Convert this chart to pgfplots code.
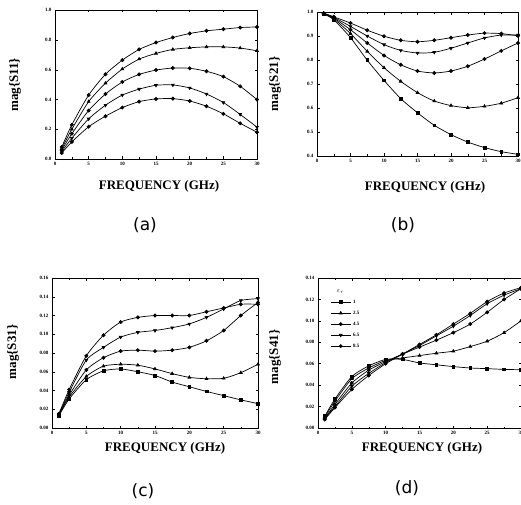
\documentclass[border=0pt]{standalone}
\usepackage{pgfplots}
\pgfplotsset{compat=1.18}
\usepackage{fontspec}
\setmainfont{Liberation Serif}
\newfontfamily\capfont{DejaVu Sans}

\pgfplotsset{
  panel/.style={
    scale only axis, anchor=south west,
    xmin=0, xmax=30, xtick={0,5,10,15,20,25,30},
    minor x tick num=1,
    tick align=inside, major tick length=2.5pt, minor tick length=1.5pt,
    tick style={black, line width=0.5pt},
    axis line style={line width=0.7pt},
    ticklabel style={font=\fontsize{5}{6}\selectfont\bfseries},
    /pgf/number format/assume math mode=true,
    every axis plot/.append style={black, line width=0.7pt, mark size=1.6pt, smooth, tension=0.4},
  },
  mA/.style={mark=*},
  mB/.style={mark=triangle*},
  mC/.style={mark=*},
  mD/.style={mark=triangle*, mark options={rotate=180}},
  mE/.style={mark=square*, mark size=1.4pt},
}

\begin{document}
\begin{tikzpicture}[x=1pt,y=1pt]
\useasboundingbox (0pt,0pt) rectangle (521pt,504pt);

% (a) S11
\begin{axis}[panel, at={(55pt,345pt)}, width=202pt, height=149pt,
  ymin=0, ymax=1.002, ytick={0,0.2,0.4,0.6,0.8,1},
  yticklabels={0.0,0.2,0.4,0.6,0.8,1.0}]
\addplot[mA] coordinates {(1,0.08)(2.5,0.23)(5,0.43)(7.5,0.57)(10,0.665)(12.5,0.737)(15,0.783)(17.5,0.817)(20,0.844)(22.5,0.862)(25,0.873)(27.5,0.884)(30,0.888)};
\addplot[mB] coordinates {(1,0.07)(2.5,0.20)(5,0.386)(7.5,0.51)(10,0.605)(12.5,0.672)(15,0.71)(17.5,0.737)(20,0.748)(22.5,0.754)(25,0.754)(27.5,0.746)(30,0.728)};
\addplot[mC] coordinates {(1,0.06)(2.5,0.17)(5,0.326)(7.5,0.437)(10,0.518)(12.5,0.569)(15,0.598)(17.5,0.612)(20,0.61)(22.5,0.59)(25,0.554)(27.5,0.489)(30,0.40)};
\addplot[mD] coordinates {(1,0.05)(2.5,0.14)(5,0.27)(7.5,0.362)(10,0.43)(12.5,0.47)(15,0.496)(17.5,0.498)(20,0.478)(22.5,0.437)(25,0.38)(27.5,0.30)(30,0.214)};
\addplot[mC] coordinates {(1,0.04)(2.5,0.115)(5,0.217)(7.5,0.288)(10,0.346)(12.5,0.386)(15,0.404)(17.5,0.406)(20,0.39)(22.5,0.355)(25,0.304)(27.5,0.24)(30,0.18)};
\end{axis}

% (b) S21
\begin{axis}[panel, at={(317pt,348pt)}, width=201pt, height=144pt,
  ymin=0.4, ymax=1, ytick={0.4,0.5,0.6,0.7,0.8,0.9,1.0},
  yticklabel style={/pgf/number format/.cd, fixed, fixed zerofill, precision=1}]
\addplot[mC] coordinates {(1,0.995)(2.5,0.98)(5,0.954)(7.5,0.924)(10,0.899)(12.5,0.882)(15,0.876)(17.5,0.882)(20,0.893)(22.5,0.904)(25,0.912)(27.5,0.91)(30,0.901)};
\addplot[mD] coordinates {(1,0.995)(2.5,0.978)(5,0.94)(7.5,0.9)(10,0.864)(12.5,0.84)(15,0.829)(17.5,0.832)(20,0.849)(22.5,0.871)(25,0.892)(27.5,0.904)(30,0.904)};
\addplot[mA] coordinates {(1,0.994)(2.5,0.975)(5,0.926)(7.5,0.871)(10,0.819)(12.5,0.78)(15,0.754)(17.5,0.746)(20,0.754)(22.5,0.774)(25,0.804)(27.5,0.838)(30,0.871)};
\addplot[mB] coordinates {(1,0.993)(2.5,0.972)(5,0.91)(7.5,0.836)(10,0.768)(12.5,0.711)(15,0.664)(17.5,0.629)(20,0.61)(22.5,0.601)(25,0.607)(27.5,0.62)(30,0.643)};
\addplot[mE] coordinates {(1,0.992)(2.5,0.968)(5,0.893)(7.5,0.799)(10,0.715)(12.5,0.639)(15,0.58)(17.5,0.528)(20,0.489)(22.5,0.458)(25,0.435)(27.5,0.418)(30,0.407)};
\end{axis}

% (c) S31
\begin{axis}[panel, at={(52pt,76pt)}, width=206pt, height=150pt,
  ymin=0, ymax=0.16, ytick={0,0.02,0.04,0.06,0.08,0.10,0.12,0.14,0.16},
  yticklabel style={/pgf/number format/.cd, fixed, fixed zerofill, precision=2}]
\addplot[mA] coordinates {(1,0.015)(2.5,0.041)(5,0.077)(7.5,0.099)(10,0.113)(12.5,0.118)(15,0.12)(17.5,0.12)(20,0.12)(22.5,0.124)(25,0.128)(27.5,0.132)(30,0.132)};
\addplot[mD] coordinates {(1,0.015)(2.5,0.038)(5,0.0725)(7.5,0.086)(10,0.097)(12.5,0.102)(15,0.104)(17.5,0.107)(20,0.111)(22.5,0.118)(25,0.127)(27.5,0.136)(30,0.138)};
\addplot[mC] coordinates {(1,0.014)(2.5,0.035)(5,0.062)(7.5,0.075)(10,0.082)(12.5,0.083)(15,0.082)(17.5,0.083)(20,0.086)(22.5,0.093)(25,0.104)(27.5,0.12)(30,0.134)};
\addplot[mB] coordinates {(1,0.014)(2.5,0.033)(5,0.055)(7.5,0.066)(10,0.068)(12.5,0.067)(15,0.063)(17.5,0.058)(20,0.054)(22.5,0.0525)(25,0.053)(27.5,0.059)(30,0.068)};
\addplot[mE] coordinates {(1,0.013)(2.5,0.031)(5,0.0515)(7.5,0.061)(10,0.063)(12.5,0.06)(15,0.056)(17.5,0.049)(20,0.044)(22.5,0.039)(25,0.0345)(27.5,0.030)(30,0.026)};
\end{axis}

% (d) S41
\begin{axis}[panel, at={(318pt,76pt)}, width=203pt, height=150pt,
  ymin=0, ymax=0.14, ytick={0,0.02,0.04,0.06,0.08,0.10,0.12,0.14},
  yticklabel style={/pgf/number format/.cd, fixed, fixed zerofill, precision=2},
  legend style={draw=none, fill=none, at={(0.06,0.87)}, anchor=north west,
    font=\fontsize{5}{6}\selectfont\bfseries, row sep=2.2pt, inner sep=0pt},
  legend cell align=left,
  legend image code/.code={\draw[mark repeat=2, mark phase=2, sharp plot]
    plot coordinates {(0pt,0pt) (10pt,0pt) (20pt,0pt)};}]
\addplot[mE] coordinates {(1,0.011)(2.5,0.027)(5,0.048)(7.5,0.058)(10,0.064)(12.5,0.064)(15,0.0607)(17.5,0.059)(20,0.0573)(22.5,0.056)(25,0.0554)(27.5,0.0547)(30,0.0544)};
\addlegendentry{1}
\addplot[mB] coordinates {(1,0.010)(2.5,0.025)(5,0.046)(7.5,0.056)(10,0.063)(12.5,0.0654)(15,0.0676)(17.5,0.0698)(20,0.0717)(22.5,0.076)(25,0.081)(27.5,0.089)(30,0.10)};
\addlegendentry{2.5}
\addplot[mC] coordinates {(1,0.009)(2.5,0.022)(5,0.042)(7.5,0.054)(10,0.062)(12.5,0.069)(15,0.0755)(17.5,0.082)(20,0.089)(22.5,0.097)(25,0.108)(27.5,0.12)(30,0.13)};
\addlegendentry{4.5}
\addplot[mD] coordinates {(1,0.009)(2.5,0.020)(5,0.039)(7.5,0.051)(10,0.061)(12.5,0.069)(15,0.077)(17.5,0.086)(20,0.095)(22.5,0.105)(25,0.116)(27.5,0.124)(30,0.13)};
\addlegendentry{6.5}
\addplot[mA] coordinates {(1,0.008)(2.5,0.019)(5,0.036)(7.5,0.049)(10,0.060)(12.5,0.069)(15,0.078)(17.5,0.087)(20,0.097)(22.5,0.107)(25,0.118)(27.5,0.126)(30,0.131)};
\addlegendentry{8.5}
\node[font=\fontsize{6}{7}\selectfont] at (axis description cs:0.11,0.91) {$\varepsilon_r$};
\end{axis}

% axis titles
\begin{scope}[font=\fontsize{13}{15}\selectfont\bfseries]
\node at (159pt,318pt) {FREQUENCY (GHz)};
\node at (425pt,317pt) {FREQUENCY (GHz)};
\node at (165pt,56pt) {FREQUENCY (GHz)};
\node at (422pt,56pt) {FREQUENCY (GHz)};
\node[rotate=90] at (15pt,419pt) {mag\{S11\}};
\node[rotate=90] at (275pt,420pt) {mag\{S21\}};
\node[rotate=90] at (13pt,152pt) {mag\{S31\}};
\node[rotate=90] at (275pt,147pt) {mag\{S41\}};
\end{scope}
\begin{scope}[font=\fontsize{17}{20}\selectfont\capfont]
\node at (145pt,279pt) {(a)};
\node at (403pt,279pt) {(b)};
\node at (143pt,13pt) {(c)};
\node at (407pt,16pt) {(d)};
\end{scope}
\end{tikzpicture}
\end{document}
